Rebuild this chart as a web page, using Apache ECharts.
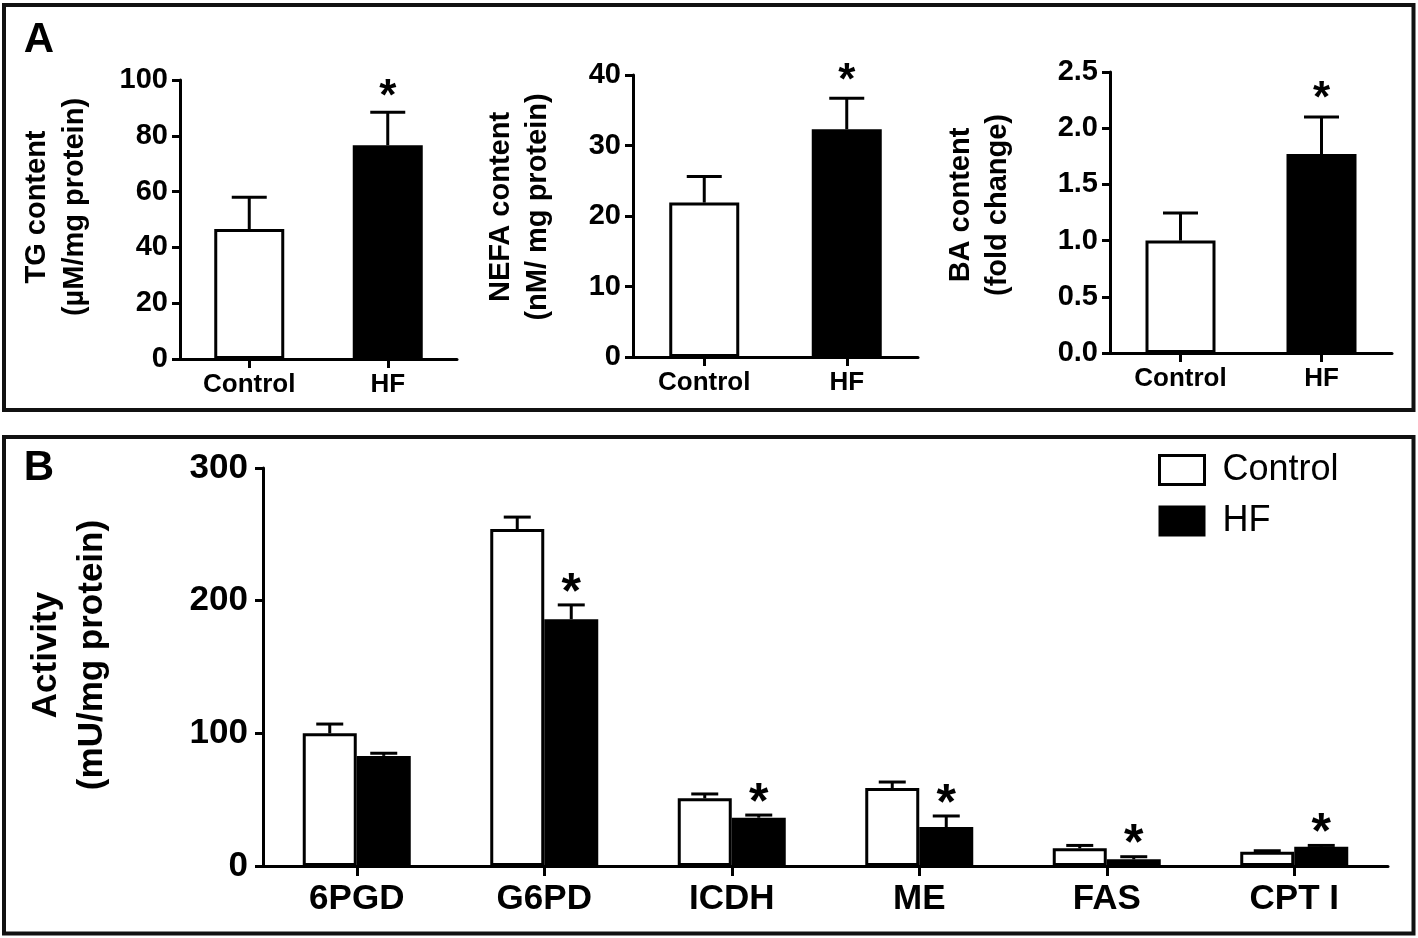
<!DOCTYPE html>
<html><head><meta charset="utf-8">
<script src="https://cdn.jsdelivr.net/npm/echarts@6/dist/echarts.min.js"></script>
<style>html,body{margin:0;padding:0;background:#fff}#c{width:1418px;height:938px}</style>
</head><body><div id="c"></div>
<script>
// ---------- data ----------
const groupsA = ['Control', 'HF'];
const tgMean = [46.6, 76.6];
const tgSem = [11.4, 11.8];
const tgSig = [0, 1];
const tgTicks = [0, 20, 40, 60, 80, 100];
const nefaMean = [21.9, 32.3];
const nefaSem = [3.7, 4.4];
const nefaSig = [0, 1];
const nefaTicks = [0, 10, 20, 30, 40];
const baMean = [1.0, 1.77];
const baSem = [0.245, 0.33];
const baSig = [0, 1];
const baTicks = [0.0, 0.5, 1.0, 1.5, 2.0, 2.5];

const enzymes = ['6PGD', 'G6PD', 'ICDH', 'ME', 'FAS', 'CPT I'];
const controlMean = [100, 254, 51, 58.8, 13.3, 10.8];
const controlSem = [7, 9, 3.3, 4.5, 2.2, 0.7];
const controlSig = [0, 0, 0, 0, 0, 0];
const hfMean = [83, 186, 36.4, 29.4, 5.0, 14.5];
const hfSem = [2, 10.8, 2, 8.3, 2, 1];
const hfSig = [0, 1, 1, 1, 1, 1];
const activityTicks = [0, 100, 200, 300];

// ---------- helpers ----------
const FONT = '"Liberation Sans", Arial, Helvetica, sans-serif';
const groupColors = ['#ffffff', '#000000'];

function yAxisCfg(gi, ticks, fs, margin, fmt) {
  return {
    type: 'value', gridIndex: gi,
    min: ticks[0], max: ticks[ticks.length - 1], interval: ticks[1] - ticks[0],
    axisLine: { show: true, lineStyle: { color: '#000', width: 3 } },
    axisTick: { show: true, length: 8, lineStyle: { color: '#000', width: 3 } },
    splitLine: { show: false },
    axisLabel: { fontSize: fs, fontWeight: 'bold', color: '#000', fontFamily: FONT, margin: margin,
      formatter: fmt || (v => String(v)) }
  };
}
function xAxisCfg(gi, cats, fs, margin, tickLen) {
  return {
    type: 'category', gridIndex: gi, data: cats,
    axisLine: { show: true, lineStyle: { color: '#000', width: 3 } },
    axisTick: { show: true, alignWithLabel: true, length: tickLen, lineStyle: { color: '#000', width: 3 } },
    axisLabel: { fontSize: fs, fontWeight: 'bold', color: '#000', fontFamily: FONT, margin: margin, interval: 0 }
  };
}
function errSeries(gi, means, sems, sigs, capW, offset, starFs, starGap) {
  return {
    type: 'custom', xAxisIndex: gi, yAxisIndex: gi, silent: true, z: 5,
    data: means.map((m, i) => [i, m, sems[i], sigs[i]]),
    renderItem: function (params, api) {
      const idx = api.value(0), m = api.value(1), s = api.value(2), sig = api.value(3);
      const base = api.coord([idx, m]);
      const top = api.coord([idx, m + s]);
      const cx = base[0] + offset;
      const children = [
        { type: 'line', shape: { x1: cx, y1: base[1], x2: cx, y2: top[1] }, style: { stroke: '#000', lineWidth: 3 } },
        { type: 'line', shape: { x1: cx - capW / 2, y1: top[1], x2: cx + capW / 2, y2: top[1] }, style: { stroke: '#000', lineWidth: 3 } }
      ];
      if (sig) {
        children.push({ type: 'text', style: { text: '*', x: cx, y: top[1] - starGap + 0.22 * starFs,
          fill: '#000', fontSize: starFs, fontWeight: 'bold', fontFamily: FONT, align: 'center', verticalAlign: 'middle' } });
      }
      return { type: 'group', children: children };
    }
  };
}
function barA(gi, means) {
  return {
    type: 'bar', xAxisIndex: gi, yAxisIndex: gi, barWidth: 70, z: 2,
    data: means.map((v, i) => ({ value: v, itemStyle: { color: groupColors[i], borderColor: '#000', borderWidth: 3 } }))
  };
}

const chart = echarts.init(document.getElementById('c'), null, { renderer: 'canvas' });
const option = {
  animation: false,
  backgroundColor: '#fff',
  grid: [
    { left: 180, top: 80, width: 277, height: 279, outerBoundsMode: 'none' },
    { left: 633, top: 75, width: 285, height: 282, outerBoundsMode: 'none' },
    { left: 1110, top: 72, width: 282, height: 281, outerBoundsMode: 'none' },
    { left: 263, top: 468, width: 1125, height: 398, outerBoundsMode: 'none' }
  ],
  xAxis: [
    xAxisCfg(0, groupsA, 26, 13, 9),
    xAxisCfg(1, groupsA, 26, 13, 9),
    xAxisCfg(2, groupsA, 26, 13, 9),
    xAxisCfg(3, enzymes, 35, 16, 10)
  ],
  yAxis: [
    yAxisCfg(0, tgTicks, 29, 12),
    yAxisCfg(1, nefaTicks, 29, 12),
    yAxisCfg(2, baTicks, 29, 12, v => v.toFixed(1)),
    yAxisCfg(3, activityTicks, 35, 15)
  ],
  legend: {
    data: [
      { name: 'Control', itemStyle: { color: '#fff', borderColor: '#000', borderWidth: 3 } },
      { name: 'HF', itemStyle: { color: '#000' } }
    ],
    orient: 'vertical', left: 1153, top: 447, itemWidth: 45, itemHeight: 29, itemGap: 15, icon: 'rect',
    selectedMode: false,
    textStyle: { fontSize: 36, fontFamily: FONT, color: '#000', padding: [0, 0, 0, 13] }
  },
  series: [
    barA(0, tgMean), errSeries(0, tgMean, tgSem, tgSig, 35, 0, 44, 24),
    barA(1, nefaMean), errSeries(1, nefaMean, nefaSem, nefaSig, 35, 0, 44, 26),
    barA(2, baMean), errSeries(2, baMean, baSem, baSig, 35, 0, 44, 27),
    { name: 'Control', type: 'bar', xAxisIndex: 3, yAxisIndex: 3, barWidth: 54, barGap: '0%', z: 2,
      itemStyle: { color: '#fff', borderColor: '#000', borderWidth: 3 }, data: controlMean },
    { name: 'HF', type: 'bar', xAxisIndex: 3, yAxisIndex: 3, barWidth: 54, barGap: '0%', z: 2,
      itemStyle: { color: '#000', borderColor: '#000', borderWidth: 3 }, data: hfMean },
    errSeries(3, controlMean, controlSem, controlSig, 27, -27, 50, 22),
    errSeries(3, hfMean, hfSem, hfSig, 27, 27, 50, 22)
  ],
  graphic: [
    { type: 'rect', shape: { x: 4, y: 5, width: 1409.5, height: 405 }, style: { fill: 'none', stroke: '#111', lineWidth: 4 } },
    { type: 'rect', shape: { x: 4, y: 437, width: 1409.5, height: 496.5 }, style: { fill: 'none', stroke: '#111', lineWidth: 4 } },
    { type: 'text', x: 39, y: 40, style: { text: 'A', fontSize: 42, fontWeight: 'bold', fontFamily: FONT, fill: '#000', align: 'center', verticalAlign: 'middle' } },
    { type: 'text', x: 39, y: 468, style: { text: 'B', fontSize: 42, fontWeight: 'bold', fontFamily: FONT, fill: '#000', align: 'center', verticalAlign: 'middle' } },
    { type: 'text', x: 56, y: 207, rotation: Math.PI / 2, style: { text: 'TG content\n(µM/mg protein)', fontSize: 29, fontWeight: 'bold', fontFamily: FONT, fill: '#000', align: 'center', verticalAlign: 'middle', lineHeight: 38 } },
    { type: 'text', x: 519, y: 207, rotation: Math.PI / 2, style: { text: 'NEFA content\n(nM/ mg protein)', fontSize: 29, fontWeight: 'bold', fontFamily: FONT, fill: '#000', align: 'center', verticalAlign: 'middle', lineHeight: 37 } },
    { type: 'text', x: 979, y: 205, rotation: Math.PI / 2, style: { text: 'BA content\n(fold change)', fontSize: 29, fontWeight: 'bold', fontFamily: FONT, fill: '#000', align: 'center', verticalAlign: 'middle', lineHeight: 37 } },
    { type: 'text', x: 69, y: 655, rotation: Math.PI / 2, style: { text: 'Activity\n(mU/mg protein)', fontSize: 35, fontWeight: 'bold', fontFamily: FONT, fill: '#000', align: 'center', verticalAlign: 'middle', lineHeight: 46 } }
  ]
};
chart.setOption(option);
</script>
</body></html>
